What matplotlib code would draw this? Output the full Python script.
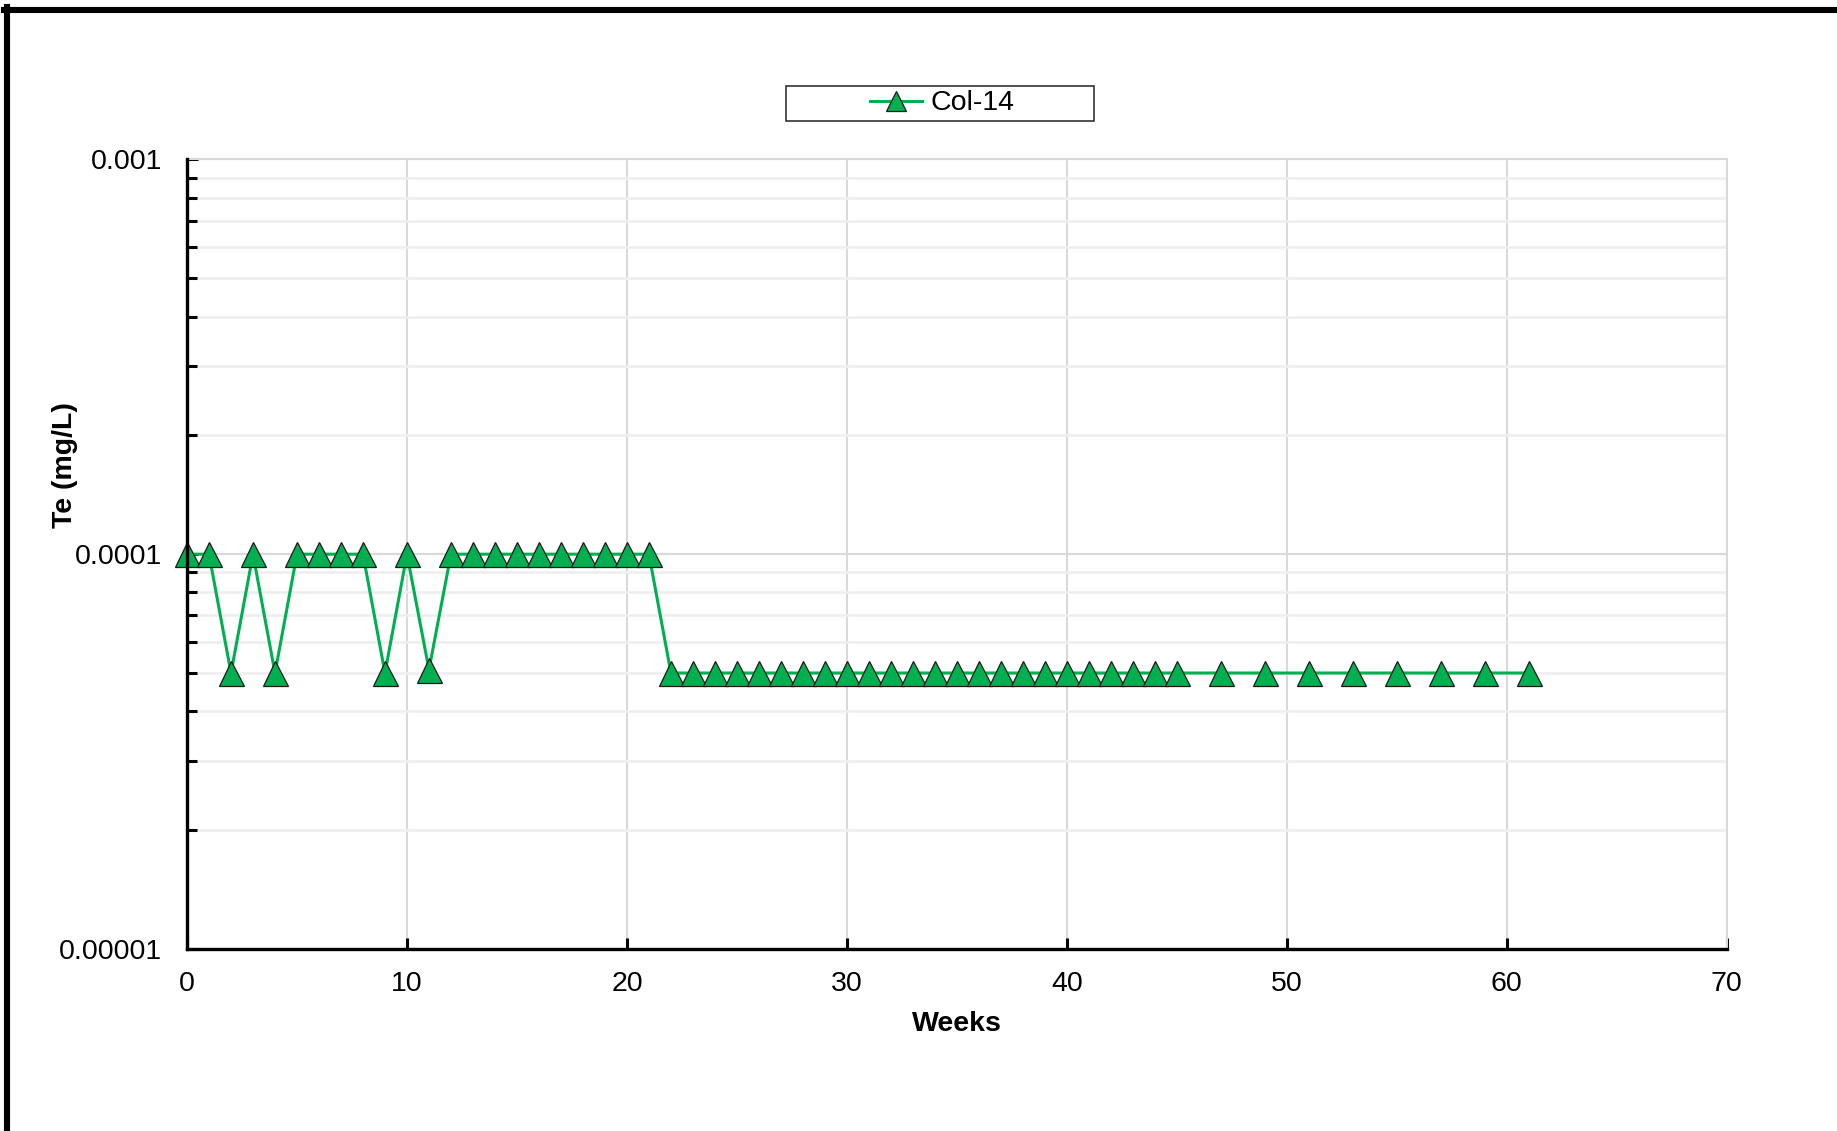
import numpy as np
import matplotlib
matplotlib.use("Agg")
from matplotlib import pyplot as plt
from matplotlib.ticker import FixedLocator, FixedFormatter, LogLocator, NullFormatter
from matplotlib.patches import Rectangle
from matplotlib.lines import Line2D

# region: data
weeks = [0, 1, 2, 3, 4, 5, 6, 7, 8, 9, 10, 11, 12, 13, 14, 15, 16, 17, 18, 19, 20, 21,
         22, 23, 24, 25, 26, 27, 28, 29, 30, 31, 32, 33, 34, 35, 36, 37, 38, 39, 40,
         41, 42, 43, 44, 45, 47, 49, 51, 53, 55, 57, 59, 61]
te = [1e-4, 1e-4, 5e-5, 1e-4, 5e-5, 1e-4, 1e-4, 1e-4, 1e-4, 5e-5, 1e-4, 5.1e-5,
      1e-4, 1e-4, 1e-4, 1e-4, 1e-4, 1e-4, 1e-4, 1e-4, 1e-4, 1e-4] + [5e-5] * 32
seriesName = "Col-14"
yTickValues = [1e-5, 1e-4, 1e-3]
yTickLabels = ["0.00001", "0.0001", "0.001"]
xTickValues = [0, 10, 20, 30, 40, 50, 60, 70]
# endregion

plt.rcParams['font.family'] = ['Liberation Sans', 'DejaVu Sans']
green = '#00B050'
gridGray = '#d9d9d9'
minorGray = '#efefef'
fs = 20.5

fig = plt.figure(figsize=(18.37, 11.31), dpi=100)
ax = fig.add_axes([0.1018, 0.161, 0.8382, 0.698])

ax.plot(weeks, te, color=green, linewidth=2.2, marker='^', markersize=18,
        markerfacecolor=green, markeredgecolor='#1a1a1a', markeredgewidth=0.9,
        clip_on=False, zorder=5)

ax.set_yscale('log')
ax.set_ylim(1e-5, 1e-3)
ax.set_xlim(0, 70)

# region: ticks and grid
ax.yaxis.set_major_locator(FixedLocator(yTickValues))
ax.yaxis.set_major_formatter(FixedFormatter(yTickLabels))
ax.yaxis.set_minor_locator(LogLocator(base=10, subs=np.arange(2, 10)))
ax.yaxis.set_minor_formatter(NullFormatter())
ax.xaxis.set_major_locator(FixedLocator(xTickValues))

ax.tick_params(axis='both', which='major', direction='in', length=8, width=2.2,
               labelsize=fs, color='black')
ax.tick_params(axis='y', which='major', pad=18)
ax.tick_params(axis='x', which='major', pad=16)
ax.tick_params(axis='y', which='minor', direction='in', length=7, width=2.2)

ax.grid(True, axis='x', which='major', color=gridGray, linewidth=1.5)
ax.grid(True, axis='y', which='major', color=gridGray, linewidth=1.5)
ax.grid(True, axis='y', which='minor', color=minorGray, linewidth=2)
ax.set_axisbelow(True)

for side in ['left', 'bottom']:
    ax.spines[side].set_linewidth(2.4)
    ax.spines[side].set_color('black')
    ax.spines[side].set_zorder(6)
for side in ['top', 'right']:
    ax.spines[side].set_linewidth(1.5)
    ax.spines[side].set_color(gridGray)
# endregion

ax.set_xlabel("Weeks", fontsize=fs, fontweight='bold', labelpad=10)
ax.set_ylabel("Te (mg/L)", fontsize=fs, fontweight='bold')
ax.yaxis.set_label_coords(-0.0708, 0.613)

# region: legend with its own box
handle = Line2D([], [], color=green, linewidth=2.2, marker='^', markersize=15,
                markerfacecolor=green, markeredgecolor='#1a1a1a', markeredgewidth=0.9)
fig.legend([handle], [seriesName], loc='center', bbox_to_anchor=(0.513, 0.9085),
           frameon=False, fontsize=fs, handlelength=1.8, handletextpad=0.3)
fig.patches.append(Rectangle((786 / 1837, 1 - 121 / 1131), 308 / 1837, 35 / 1131,
                             transform=fig.transFigure, fill=False,
                             edgecolor='#333333', linewidth=1.2))
# endregion

# outer frame: only top and left edges are visible
fig.add_artist(Line2D([4 / 1837, 1], [1 - 9.7 / 1131, 1 - 9.7 / 1131],
                      transform=fig.transFigure, color='black', linewidth=4.4))
fig.add_artist(Line2D([7 / 1837, 7 / 1837], [0, 1 - 7 / 1131],
                      transform=fig.transFigure, color='black', linewidth=4.4))

fig.savefig("out.png", dpi=100)
